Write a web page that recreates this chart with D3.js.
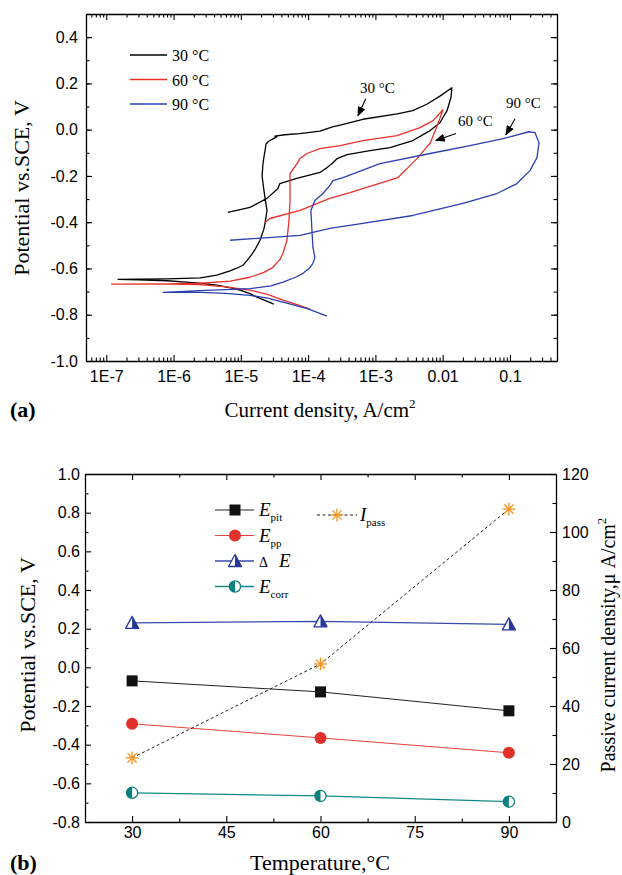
<!DOCTYPE html>
<html>
<head>
<meta charset="utf-8">
<script src="https://cdn.jsdelivr.net/npm/d3@7"></script>
<style>
  body { margin: 0; background: #fff; }
</style>
</head>
<body>
<svg id="chart" width="622" height="875"></svg>
<script>
// ---- panel (a): cyclic polarization curves, [current density A/cm2, potential V]
var curve30 = [
  [3.1e-5,-0.754],[1.74e-5,-0.724],[1.37e-5,-0.709],[9.7e-6,-0.694],[7.7e-6,-0.686],[4.4e-6,-0.672],
  [2.2e-6,-0.662],[8e-7,-0.653],[3e-7,-0.649],[1.5e-7,-0.647],
  [3e-7,-0.646],[8e-7,-0.645],[2.5e-6,-0.641],[4.4e-6,-0.629],[6.9e-6,-0.610],[8.5e-6,-0.600],
  [1.08e-5,-0.586],[1.24e-5,-0.565],[1.45e-5,-0.540],[1.65e-5,-0.515],[1.93e-5,-0.478],[2.2e-5,-0.430],
  [2.29e-5,-0.405],[2.45e-5,-0.349],[2.3e-5,-0.300],[2.2e-5,-0.260],[2.07e-5,-0.200],[2.13e-5,-0.150],
  [2.2e-5,-0.120],[2.29e-5,-0.091],[2.37e-5,-0.062],[2.6e-5,-0.050],[3.0e-5,-0.040],[3.44e-5,-0.030],
  [3.2e-5,-0.028],[4.5e-5,-0.022],[7.5e-5,-0.017],[1.5e-4,-0.006],[2.3e-4,0.012],[3.0e-4,0.020],
  [6.5e-4,0.045],[2.1e-3,0.068],[3.6e-3,0.082],[5.8e-3,0.110],[9.1e-3,0.145],[0.0137,0.181],
  [0.0133,0.140],[0.0116,0.082],[9.1e-3,0.030],[6.5e-3,-0.004],[3.6e-3,-0.047],[1.65e-3,-0.078],
  [8.3e-4,-0.091],[3.8e-4,-0.108],[2.7e-4,-0.125],[2.26e-4,-0.147],[1.91e-4,-0.164],[1.5e-4,-0.185],
  [6.8e-5,-0.211],[3.8e-5,-0.233],[3.56e-5,-0.254],[2.45e-5,-0.297],[1.37e-5,-0.336],[6.4e-6,-0.358]
];
var curve60 = [
  [1.07e-4,-0.776],[7.0e-5,-0.757],[4.24e-5,-0.737],[2.5e-5,-0.712],[1.37e-5,-0.694],[6e-6,-0.680],
  [2.5e-6,-0.670],[8e-7,-0.668],[1.2e-7,-0.668],
  [8e-7,-0.667],[2.5e-6,-0.664],[7e-6,-0.655],[1.37e-5,-0.638],[2.2e-5,-0.617],[3.0e-5,-0.595],
  [3.8e-5,-0.562],[4.24e-5,-0.534],[4.85e-5,-0.478],[5.2e-5,-0.392],[5.38e-5,-0.306],[5.38e-5,-0.190],
  [6.84e-5,-0.147],[7.57e-5,-0.125],[9.6e-5,-0.103],[1.5e-4,-0.082],[3.0e-4,-0.069],[6.5e-4,-0.047],
  [2.1e-3,-0.026],[4.6e-3,0.009],[7.2e-3,0.039],[0.0101,0.086],
  [8.5e-3,0.026],[6.5e-3,-0.060],[5.85e-3,-0.073],[4.3e-3,-0.121],[3.05e-3,-0.164],[2.17e-3,-0.207],
  [9.2e-4,-0.241],[4.2e-4,-0.272],[2.1e-4,-0.297],[7.6e-5,-0.349],[2.7e-5,-0.384],[2.29e-5,-0.401]
];
var curve90 = [
  [1.91e-4,-0.806],[1.0e-4,-0.775],[4.24e-5,-0.746],[2.5e-5,-0.728],[1.37e-5,-0.716],[6e-6,-0.708],
  [2.5e-6,-0.703],[7e-7,-0.703],
  [2.5e-6,-0.696],[1.37e-5,-0.687],[2.8e-5,-0.675],[4.24e-5,-0.659],[6.5e-5,-0.638],[8.4e-5,-0.621],
  [1.05e-4,-0.598],[1.18e-4,-0.578],[1.26e-4,-0.552],[1.18e-4,-0.509],[1.14e-4,-0.435],[1.10e-4,-0.349],
  [1.26e-4,-0.306],[1.66e-4,-0.276],[2.11e-4,-0.241],[2.34e-4,-0.220],[3.3e-4,-0.207],[1.17e-3,-0.147],
  [6.5e-3,-0.103],[0.0255,-0.069],[0.079,-0.039],[0.191,-0.009],[0.236,-0.013],[0.27,-0.056],
  [0.252,-0.121],[0.198,-0.177],[0.127,-0.233],[0.064,-0.276],[0.020,-0.319],[3.6e-3,-0.371],
  [6.5e-4,-0.405],[2.1e-4,-0.427],[7.6e-5,-0.457],[6.9e-6,-0.478]
];
var seriesA = ["30 °C", "60 °C", "90 °C"];
var xTicksA = [1e-7, 1e-6, 1e-5, 1e-4, 1e-3, 0.01, 0.1];
var xTickLabelsA = ["1E-7", "1E-6", "1E-5", "1E-4", "1E-3", "0.01", "0.1"];
var yTicksA = [-1.0, -0.8, -0.6, -0.4, -0.2, 0.0, 0.2, 0.4];
// arrow labels: [label, label current, label potential, arrow from, arrow to]
var notesA = [
  ["30 °C", 5.9e-4, 0.159, [7.2e-4, 0.134], [5.5e-4, 0.060]],
  ["60 °C", 0.0169, 0.017, [0.0158, -0.017], [7.9e-3, -0.047]],
  ["90 °C", 0.087, 0.095, [0.119, 0.047], [0.087, -0.022]]
];

// ---- panel (b): characteristic potentials vs temperature
var temps = [30, 60, 90];
var Epit = [-0.070, -0.127, -0.225];
var Epp = [-0.292, -0.365, -0.442];
var deltaE = [0.230, 0.238, 0.222];
var Ecorr = [-0.649, -0.665, -0.695];
var Ipass = [22.1, 54.5, 107.9];
var xTicksB = [30, 45, 60, 75, 90];
var yTicksB = [-0.8, -0.6, -0.4, -0.2, 0.0, 0.2, 0.4, 0.6, 0.8, 1.0];
var y2TicksB = [0, 20, 40, 60, 80, 100, 120];

var SERIF = "'Liberation Serif', 'Times New Roman', serif";
var SANS = "'Liberation Sans', Arial, sans-serif";
var colorsA = ["#000000", "#e8302a", "#2a3fb0"];

var svg = d3.select("#chart");

svg.append("defs").append("marker")
    .attr("id", "arrow")
    .attr("markerUnits", "userSpaceOnUse")
    .attr("markerWidth", 10).attr("markerHeight", 8)
    .attr("refX", 9).attr("refY", 4)
    .attr("orient", "auto")
  .append("path")
    .attr("d", "M0,0 L10,4 L0,8 Z")
    .attr("fill", "#000");

// draws one axis: ticks pointing inward, optional labels
function drawAxis(gen, trans, vals, size, fmt, pad) {
  var g = svg.append("g").attr("transform", trans);
  g.call(gen.tickValues(vals).tickSizeInner(size).tickSizeOuter(0).tickPadding(pad || 3).tickFormat(fmt));
  g.attr("color", "#000").attr("font-family", SANS).attr("font-size", 16);
  g.select(".domain").attr("stroke-width", 1.3);
  g.selectAll(".tick line").attr("stroke-width", 1.1);
  return g;
}
function minorAxis(gen, trans, vals, size) {
  var g = drawAxis(gen, trans, vals, size, "", 3);
  g.select(".domain").remove();
  return g;
}
var none = function() { return ""; };
var fix1 = function(d) { return d.toFixed(1); };

// ================= panel (a) =================
var xA = d3.scaleLog().domain([5e-8, 0.5]).range([86, 557]);
var yA = d3.scaleLinear().domain([-1.0, 0.5]).range([361, 14]);

var minorLog = [];
for (var p = -8; p <= 0; p++) {
  for (var k = 2; k <= 9; k++) {
    var v = k * Math.pow(10, p);
    if (v >= 5e-8 && v <= 0.5) minorLog.push(v);
  }
}
var minorYA = d3.range(-9, 6).map(function(d) { return d / 10; });

drawAxis(d3.axisBottom(xA), "translate(0,361)", xTicksA, -6, function(d, i) { return xTickLabelsA[i]; }, 10);
minorAxis(d3.axisBottom(xA), "translate(0,361)", minorLog, -3.5);
drawAxis(d3.axisTop(xA), "translate(0,14)", xTicksA, -6, none);
minorAxis(d3.axisTop(xA), "translate(0,14)", minorLog, -3.5);
drawAxis(d3.axisLeft(yA), "translate(86,0)", yTicksA, -6, fix1, 8);
minorAxis(d3.axisLeft(yA), "translate(86,0)", minorYA, -3.5);
drawAxis(d3.axisRight(yA), "translate(557,0)", yTicksA, -6, none);
minorAxis(d3.axisRight(yA), "translate(557,0)", minorYA, -3.5);

var lineA = d3.line().x(function(d) { return xA(d[0]); }).y(function(d) { return yA(d[1]); });
[curve30, curve60, curve90].forEach(function(c, i) {
  svg.append("path").datum(c)
    .attr("d", lineA)
    .attr("fill", "none")
    .attr("stroke", colorsA[i])
    .attr("stroke-width", 1.3)
    .attr("stroke-linejoin", "round");
});

// legend (a)
seriesA.forEach(function(s, i) {
  var y = 55 + i * 24.5;
  svg.append("line").attr("x1", 130).attr("x2", 167).attr("y1", y).attr("y2", y)
    .attr("stroke", colorsA[i]).attr("stroke-width", 1.4);
  svg.append("text").attr("x", 172).attr("y", y + 6)
    .attr("font-family", SERIF).attr("font-size", 16).text(s);
});

// arrow annotations
notesA.forEach(function(n) {
  svg.append("text").attr("x", xA(n[1])).attr("y", yA(n[2]))
    .attr("font-family", SERIF).attr("font-size", 15).text(n[0]);
  svg.append("line")
    .attr("x1", xA(n[3][0])).attr("y1", yA(n[3][1]))
    .attr("x2", xA(n[4][0])).attr("y2", yA(n[4][1]))
    .attr("stroke", "#000").attr("stroke-width", 1.1)
    .attr("marker-end", "url(#arrow)");
});

// titles (a)
svg.append("text")
  .attr("transform", "translate(29,188) rotate(-90)")
  .attr("text-anchor", "middle")
  .attr("font-family", SERIF).attr("font-size", 22)
  .text("Potential vs.SCE, V");
var xt = svg.append("text").attr("x", 320).attr("y", 417)
  .attr("text-anchor", "middle")
  .attr("font-family", SERIF).attr("font-size", 21);
xt.append("tspan").text("Current density, A/cm");
xt.append("tspan").attr("dy", -9).attr("font-size", 13).text("2");
svg.append("text").attr("x", 10).attr("y", 417)
  .attr("font-family", SERIF).attr("font-size", 22).attr("font-weight", "bold").text("(a)");

// ================= panel (b) =================
var xB = d3.scaleLinear().domain([22.5, 97.5]).range([85, 556]);
var yB = d3.scaleLinear().domain([-0.8, 1.0]).range([822, 474]);
var y2B = d3.scaleLinear().domain([0, 120]).range([822, 474]);

var minorXB = [37.5, 52.5, 67.5, 82.5];
var minorYB = d3.range(-7, 10, 2).map(function(d) { return d / 10; });
var minorY2B = d3.range(10, 120, 20);

drawAxis(d3.axisBottom(xB), "translate(0,822)", xTicksB, -6, d3.format("d"), 5);
minorAxis(d3.axisBottom(xB), "translate(0,822)", minorXB, -3.5);
drawAxis(d3.axisTop(xB), "translate(0,474)", xTicksB, -6, none);
minorAxis(d3.axisTop(xB), "translate(0,474)", minorXB, -3.5);
drawAxis(d3.axisLeft(yB), "translate(85,0)", yTicksB, -6, fix1, 5);
minorAxis(d3.axisLeft(yB), "translate(85,0)", minorYB, -3.5);
drawAxis(d3.axisRight(y2B), "translate(556,0)", y2TicksB, -6, d3.format("d"), 6);
minorAxis(d3.axisRight(y2B), "translate(556,0)", minorY2B, -3.5);

function pts(vals, sc) { return temps.map(function(t, i) { return [xB(t), sc(vals[i])]; }); }
function polyline(p, color, w, dash) {
  svg.append("path").attr("d", d3.line()(p))
    .attr("fill", "none").attr("stroke", color).attr("stroke-width", w)
    .attr("stroke-dasharray", dash || null);
}

// marker painters
function mSquare(x, y) {
  svg.append("rect").attr("x", x - 5.5).attr("y", y - 5.5).attr("width", 11).attr("height", 11).attr("fill", "#111");
}
function mCircle(x, y) {
  svg.append("circle").attr("cx", x).attr("cy", y).attr("r", 6).attr("fill", "#e2302a");
}
function mTriangle(x, y) {
  var t = [[x, y - 6.5], [x - 6.5, y + 5.5], [x + 6.5, y + 5.5]];
  svg.append("path").attr("d", "M" + t.join("L") + "Z")
    .attr("fill", "#fff").attr("stroke", "#26379c").attr("stroke-width", 1.3).attr("stroke-linejoin", "round");
  svg.append("path").attr("d", "M" + [[x, y - 6.5], [x + 6.5, y + 5.5], [x, y + 5.5]].join("L") + "Z")
    .attr("fill", "#26379c");
}
function mHalf(x, y) {
  svg.append("circle").attr("cx", x).attr("cy", y).attr("r", 5.6)
    .attr("fill", "#fff").attr("stroke", "#0a7f7e").attr("stroke-width", 1.3);
  svg.append("path").attr("d", "M" + x + "," + (y - 5.6) + " A5.6,5.6 0 0 0 " + x + "," + (y + 5.6) + " Z")
    .attr("fill", "#0a7f7e");
}
function mStar(x, y) {
  var g = svg.append("g").attr("stroke", "#f7931e").attr("stroke-width", 1.3);
  [0, 45, 90, 135].forEach(function(a) {
    var r = a * Math.PI / 180, dx = 6.5 * Math.cos(r), dy = 6.5 * Math.sin(r);
    g.append("line").attr("x1", x - dx).attr("y1", y - dy).attr("x2", x + dx).attr("y2", y + dy);
  });
}

var seriesB = [
  { vals: Epit, sc: yB, color: "#222", w: 1, mark: mSquare },
  { vals: Epp, sc: yB, color: "#e8433a", w: 1, mark: mCircle },
  { vals: deltaE, sc: yB, color: "#3a4aa8", w: 1.3, mark: mTriangle },
  { vals: Ecorr, sc: yB, color: "#138a88", w: 1.3, mark: mHalf }
];
seriesB.forEach(function(s) {
  var p = pts(s.vals, s.sc);
  polyline(p, s.color, s.w);
  p.forEach(function(q) { s.mark(q[0], q[1]); });
});
var pI = pts(Ipass, y2B);
polyline(pI, "#222", 1, "3,2.5");
pI.forEach(function(q) { mStar(q[0], q[1]); });

// legend (b)
var legB = [
  ["E", "pit", 0], ["E", "pp", 1], ["ΔE", "", 2], ["E", "corr", 3]
];
legB.forEach(function(l) {
  var y = 510 + l[2] * 25.5, s = seriesB[l[2]];
  svg.append("line").attr("x1", 215).attr("x2", 254).attr("y1", y).attr("y2", y)
    .attr("stroke", s.color).attr("stroke-width", s.w);
  s.mark(235, y);
  var t = svg.append("text").attr("x", 259).attr("y", y + 6).attr("font-family", SERIF);
  if (l[0] === "ΔE") {
    t.append("tspan").attr("font-size", 14).text("Δ");
    t.append("tspan").attr("dx", 11).attr("font-size", 19).attr("font-style", "italic").text("E");
  } else {
    t.append("tspan").attr("font-size", 19).attr("font-style", "italic").text(l[0]);
    t.append("tspan").attr("dy", 5).attr("font-size", 11).text(l[1]);
  }
});
svg.append("line").attr("x1", 317).attr("x2", 357).attr("y1", 515).attr("y2", 515)
  .attr("stroke", "#222").attr("stroke-width", 1).attr("stroke-dasharray", "3,2.5");
mStar(337, 515);
var ti = svg.append("text").attr("x", 360).attr("y", 521).attr("font-family", SERIF);
ti.append("tspan").attr("font-size", 19).attr("font-style", "italic").text("I");
ti.append("tspan").attr("dy", 5).attr("font-size", 11).text("pass");

// titles (b)
svg.append("text")
  .attr("transform", "translate(35,645) rotate(-90)")
  .attr("text-anchor", "middle")
  .attr("font-family", SERIF).attr("font-size", 22)
  .text("Potential vs.SCE, V");
var rt = svg.append("text")
  .attr("transform", "translate(615,645) rotate(-90)")
  .attr("text-anchor", "middle")
  .attr("font-family", SERIF).attr("font-size", 20);
rt.append("tspan").text("Passive current density,μ A/cm");
rt.append("tspan").attr("dy", -9).attr("font-size", 13).text("2");
svg.append("text").attr("x", 320).attr("y", 870)
  .attr("text-anchor", "middle")
  .attr("font-family", SERIF).attr("font-size", 22)
  .text("Temperature,°C");
svg.append("text").attr("x", 10).attr("y", 870)
  .attr("font-family", SERIF).attr("font-size", 22).attr("font-weight", "bold").text("(b)");
</script>
</body>
</html>
